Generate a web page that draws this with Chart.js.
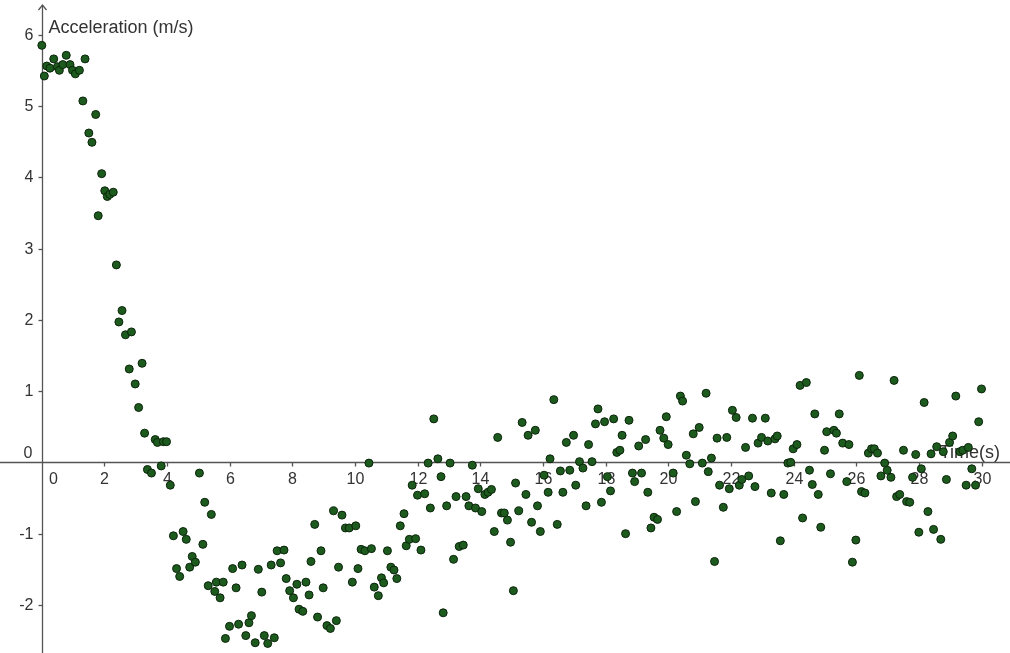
<!DOCTYPE html>
<html>
<head>
<meta charset="utf-8">
<title>Acceleration vs Time</title>
<script src="https://cdn.jsdelivr.net/npm/chart.js@4.4.1/dist/chart.umd.min.js"></script>
<style>
  html, body { margin: 0; padding: 0; background: #fff; }
  #wrap { width: 1010px; height: 653px; }
</style>
</head>
<body>
<div id="wrap"><canvas id="chart" width="1010" height="653"></canvas></div>
<script>
// Data (time in s, acceleration)
const times = [
  0.00, 0.08, 0.16, 0.26, 0.38, 0.50, 0.56, 0.67, 0.78, 0.90, 0.98, 1.07, 1.20, 1.31, 1.38,
  1.50, 1.60, 1.72, 1.80, 1.91, 2.01, 2.09, 2.17, 2.28, 2.38, 2.46, 2.56, 2.67, 2.79, 2.86,
  2.98, 3.09, 3.20, 3.28, 3.37, 3.50, 3.62, 3.69, 3.81, 3.88, 3.98, 4.10, 4.20, 4.30, 4.40,
  4.51, 4.61, 4.72, 4.80, 4.90, 5.03, 5.14, 5.20, 5.31, 5.41, 5.52, 5.57, 5.69, 5.79, 5.86,
  5.99, 6.09, 6.20, 6.28, 6.39, 6.51, 6.61, 6.69, 6.81, 6.91, 7.02, 7.10, 7.21, 7.32, 7.42,
  7.51, 7.62, 7.73, 7.80, 7.91, 8.03, 8.14, 8.21, 8.33, 8.43, 8.53, 8.59, 8.71, 8.80, 8.91,
  8.98, 9.10, 9.21, 9.31, 9.40, 9.47, 9.58, 9.69, 9.81, 9.91, 10.02, 10.09, 10.19, 10.31, 10.44,
  10.52, 10.61, 10.74, 10.84, 10.91, 11.03, 11.14, 11.24, 11.33, 11.44, 11.56, 11.63, 11.73, 11.82, 11.93,
  11.99, 12.10, 12.22, 12.33, 12.40, 12.51, 12.64, 12.74, 12.81, 12.92, 13.03, 13.14, 13.22, 13.32, 13.45,
  13.54, 13.63, 13.74, 13.84, 13.93, 14.04, 14.14, 14.24, 14.35, 14.44, 14.55, 14.67, 14.76, 14.86, 14.96,
  15.05, 15.12, 15.22, 15.33, 15.45, 15.52, 15.63, 15.75, 15.82, 15.91, 16.03, 16.16, 16.22, 16.34, 16.45,
  16.55, 16.63, 16.74, 16.85, 16.97, 17.04, 17.16, 17.27, 17.37, 17.45, 17.56, 17.67, 17.75, 17.86, 17.96,
  18.05, 18.15, 18.25, 18.35, 18.45, 18.52, 18.63, 18.74, 18.85, 18.92, 19.05, 19.14, 19.27, 19.34, 19.44,
  19.54, 19.65, 19.73, 19.85, 19.93, 19.99, 20.15, 20.26, 20.38, 20.45, 20.57, 20.68, 20.79, 20.86, 20.98,
  21.08, 21.20, 21.27, 21.37, 21.47, 21.55, 21.63, 21.75, 21.86, 21.94, 22.04, 22.16, 22.26, 22.34, 22.46,
  22.56, 22.68, 22.76, 22.86, 22.97, 23.09, 23.17, 23.28, 23.40, 23.47, 23.57, 23.68, 23.81, 23.90, 23.98,
  24.10, 24.20, 24.28, 24.40, 24.50, 24.59, 24.67, 24.78, 24.86, 24.98, 25.05, 25.17, 25.28, 25.36, 25.45,
  25.56, 25.69, 25.76, 25.87, 25.98, 26.09, 26.16, 26.27, 26.38, 26.48, 26.57, 26.67, 26.78, 26.90, 26.98,
  27.10, 27.20, 27.28, 27.38, 27.50, 27.60, 27.70, 27.79, 27.89, 27.99, 28.07, 28.16, 28.28, 28.38, 28.46,
  28.56, 28.69, 28.77, 28.87, 28.97, 29.07, 29.17, 29.30, 29.39, 29.50, 29.57, 29.68, 29.80, 29.90, 29.99
];
const accel = [
  5.85, 5.42, 5.56, 5.53, 5.66, 5.55, 5.50, 5.58, 5.71, 5.58, 5.50, 5.45, 5.50, 5.07, 5.66,
  4.62, 4.49, 4.88, 3.46, 4.05, 3.81, 3.73, 3.76, 3.79, 2.77, 1.97, 2.13, 1.79, 1.31, 1.83,
  1.10, 0.77, 1.39, 0.41, -0.10, -0.15, 0.32, 0.28, -0.05, 0.29, 0.29, -0.32, -1.03, -1.49, -1.60,
  -0.97, -1.08, -1.47, -1.32, -1.40, -0.15, -1.15, -0.56, -1.73, -0.73, -1.81, -1.68, -1.90, -1.68, -2.47,
  -2.30, -1.49, -1.76, -2.27, -1.44, -2.43, -2.25, -2.15, -2.53, -1.50, -1.82, -2.43, -2.54, -1.44, -2.46,
  -1.24, -1.41, -1.23, -1.63, -1.80, -1.90, -1.71, -2.06, -2.09, -1.68, -1.86, -1.39, -0.87, -2.17, -1.24,
  -1.76, -2.29, -2.33, -0.68, -2.22, -1.47, -0.74, -0.92, -0.92, -1.68, -0.89, -1.49, -1.22, -1.24, -0.01,
  -1.21, -1.75, -1.87, -1.62, -1.69, -1.24, -1.47, -1.51, -1.63, -0.89, -0.72, -1.17, -1.08, -0.32, -1.07,
  -0.46, -1.23, -0.44, -0.01, -0.64, 0.61, 0.05, -0.20, -2.11, -0.61, -0.01, -1.36, -0.48, -1.18, -1.16,
  -0.48, -0.61, -0.04, -0.64, -0.37, -0.69, -0.45, -0.42, -0.38, -0.97, 0.35, -0.71, -0.71, -0.81, -1.12,
  -1.80, -0.29, -0.68, 0.56, -0.45, 0.38, -0.84, 0.45, -0.61, -0.97, -0.18, -0.42, 0.05, 0.88, -0.87,
  -0.12, -0.42, 0.28, -0.11, 0.38, -0.32, 0.01, -0.08, -0.61, 0.25, 0.01, 0.54, 0.75, -0.56, 0.57,
  -0.20, -0.40, 0.61, 0.14, 0.17, 0.38, -1.00, 0.59, -0.15, -0.27, 0.23, -0.15, 0.32, -0.42, -0.92,
  -0.77, -0.80, 0.45, 0.34, 0.64, 0.25, -0.15, -0.69, 0.93, 0.86, 0.10, -0.02, 0.40, -0.55, 0.49,
  -0.01, 0.97, -0.13, 0.06, -1.39, 0.34, -0.32, -0.63, 0.35, -0.37, 0.73, 0.63, -0.32, -0.24, 0.21,
  -0.19, 0.62, -0.34, 0.27, 0.35, 0.62, 0.30, -0.43, 0.33, 0.37, -1.10, -0.45, -0.01, 0.00, 0.19,
  0.25, 1.08, -0.78, 1.12, -0.11, -0.31, 0.68, -0.45, -0.91, 0.17, 0.43, -0.16, 0.45, 0.41, 0.68,
  0.27, -0.27, 0.25, -1.40, -1.09, 1.22, -0.41, -0.43, 0.13, 0.19, 0.19, 0.13, -0.19, -0.01, -0.11,
  -0.21, 1.15, -0.48, -0.45, 0.17, -0.55, -0.56, -0.21, 0.11, -0.98, -0.09, 0.84, -0.69, 0.12, -0.94,
  0.22, -1.08, 0.15, -0.24, 0.28, 0.37, 0.93, 0.15, 0.17, -0.32, 0.21, -0.09, -0.32, 0.57, 1.03
];
const xTickValues = [0, 2, 4, 6, 8, 10, 12, 14, 16, 18, 20, 22, 24, 26, 28, 30];
const yTickValues = [-2, -1, 0, 1, 2, 3, 4, 5, 6];
const xTitle = 'Time(s)';
const yTitle = 'Acceleration (m/s)';

const points = times.map((t, i) => ({ x: t, y: accel[i] }));

// GeoGebra-like axes through the origin, drawn under the points
const geoAxes = {
  id: 'geoAxes',
  beforeDatasetsDraw(chart) {
    const { ctx, scales: { x, y } } = chart;
    const x0 = Math.round(x.getPixelForValue(0)) + 0.5;
    const y0 = Math.round(y.getPixelForValue(0)) + 0.5;
    ctx.save();
    ctx.strokeStyle = '#555';
    ctx.lineWidth = 1.3;

    // x axis
    ctx.beginPath();
    ctx.moveTo(0, y0);
    ctx.lineTo(chart.width, y0);
    ctx.stroke();

    // y axis with arrow at top
    ctx.beginPath();
    ctx.moveTo(x0, chart.height);
    ctx.lineTo(x0, 5);
    ctx.stroke();
    ctx.beginPath();
    ctx.moveTo(x0 - 4, 10);
    ctx.lineTo(x0, 5);
    ctx.lineTo(x0 + 4, 10);
    ctx.stroke();

    ctx.fillStyle = '#333';
    ctx.font = '16px "Liberation Sans", Arial, sans-serif';

    // x ticks + labels
    ctx.textAlign = 'center';
    ctx.textBaseline = 'middle';
    xTickValues.forEach(v => {
      const px = Math.round(x.getPixelForValue(v)) + 0.5;
      if (v !== 0) {
        ctx.beginPath();
        ctx.moveTo(px, y0);
        ctx.lineTo(px, y0 + 4);
        ctx.stroke();
        ctx.fillText(String(v), px, y0 + 17);
      } else {
        ctx.fillText('0', px + 11, y0 + 17);
      }
    });

    // y ticks + labels
    ctx.textAlign = 'right';
    yTickValues.forEach(v => {
      const py = Math.round(y.getPixelForValue(v)) + 0.5;
      if (v !== 0) {
        ctx.beginPath();
        ctx.moveTo(x0 - 4, py);
        ctx.lineTo(x0, py);
        ctx.stroke();
        ctx.fillText(String(v), x0 - 9, py);
      } else {
        ctx.fillText('0', x0 - 10, py - 9);
      }
    });

    // axis titles
    ctx.font = '18px "Liberation Sans", Arial, sans-serif';
    ctx.textAlign = 'left';
    ctx.fillText(yTitle, x0 + 6, 28);
    ctx.textAlign = 'right';
    ctx.fillText(xTitle, chart.width - 10, y0 - 9);
    ctx.restore();
  }
};

new Chart(document.getElementById('chart'), {
  type: 'scatter',
  data: {
    datasets: [{
      data: points,
      backgroundColor: '#1d5a1d',
      borderColor: '#0b240b',
      borderWidth: 1,
      pointRadius: 4,
      pointHoverRadius: 4
    }]
  },
  options: {
    responsive: false,
    devicePixelRatio: 1,
    animation: false,
    layout: { padding: 0 },
    scales: {
      x: { type: 'linear', min: -1.175, max: 30.74, display: false },
      y: { type: 'linear', min: -2.604, max: 6.416, display: false }
    },
    plugins: {
      legend: { display: false },
      tooltip: { enabled: false }
    }
  },
  plugins: [geoAxes]
});
</script>
</body>
</html>
